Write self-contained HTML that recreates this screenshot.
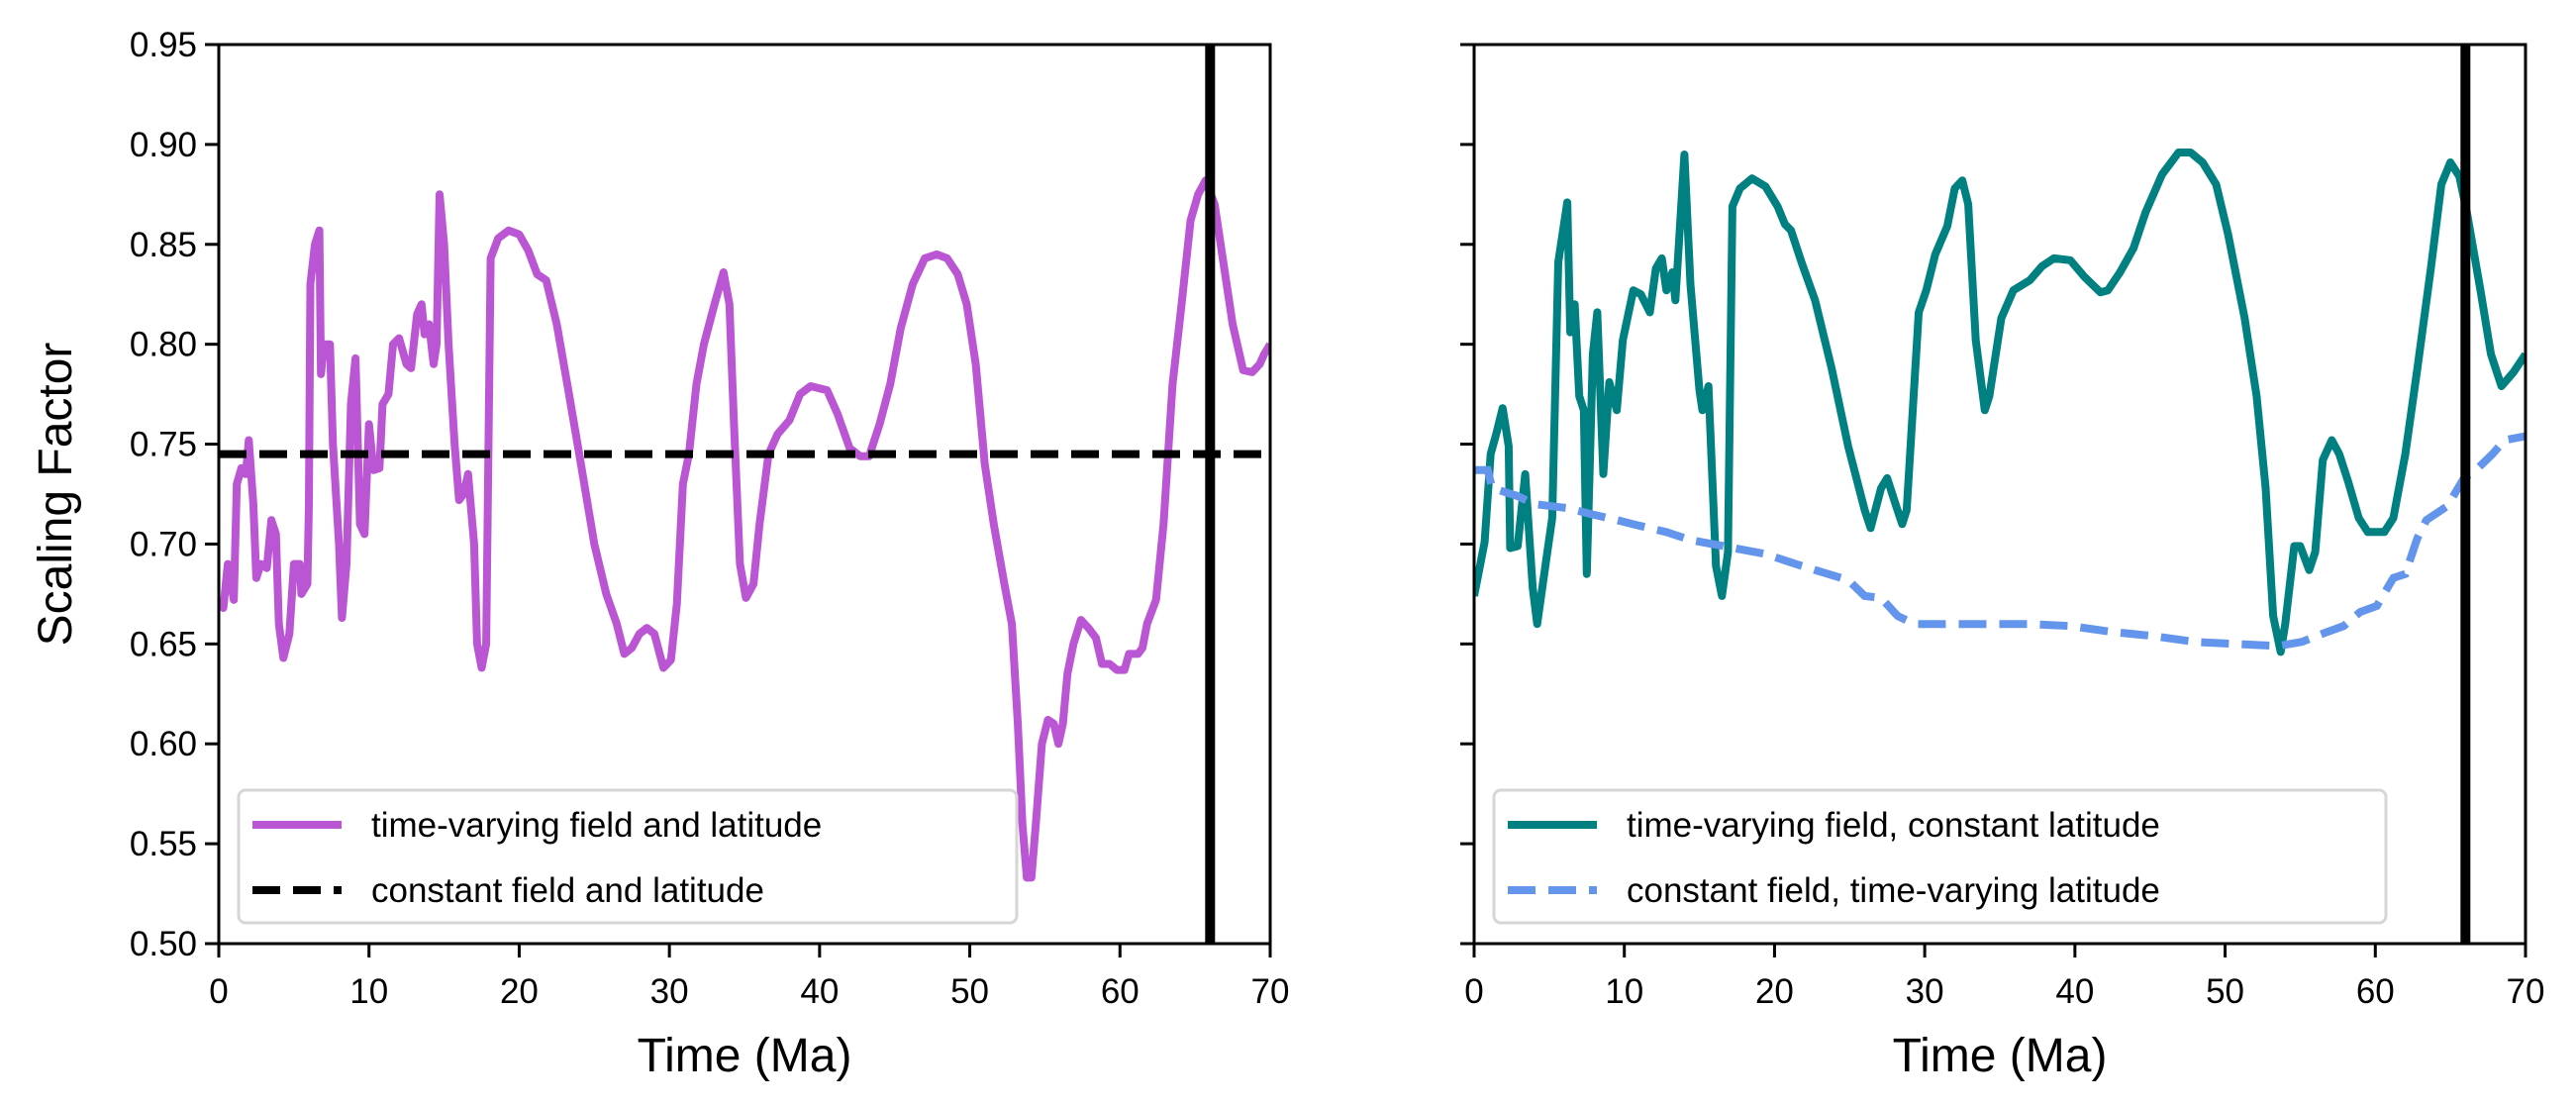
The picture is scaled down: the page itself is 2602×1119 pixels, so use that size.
<!DOCTYPE html>
<html><head><meta charset="utf-8"><style>
html,body{margin:0;padding:0;background:#fff;}
svg{display:block;font-family:"Liberation Sans","DejaVu Sans",sans-serif;}
</style></head><body>
<svg id="chart" width="2602" height="1119" viewBox="0 0 2602 1119" xmlns="http://www.w3.org/2000/svg"></svg>
<script>
const xTicks=[0,10,20,30,40,50,60,70];
const yTicks=[0.50,0.55,0.60,0.65,0.70,0.75,0.80,0.85,0.90,0.95];
const boundaryAge=66;
const constantValue=0.745;
const purpleT=[0,0.3,0.6,1,1.2,1.5,1.8,2,2.3,2.5,2.8,3.2,3.5,3.8,4,4.3,4.7,5,5.4,5.5,5.9,6,6.1,6.4,6.7,6.8,7,7.4,7.6,8,8.2,8.5,8.8,9.1,9.4,9.7,10,10.3,10.7,10.9,11.3,11.6,12,12.5,12.8,13.2,13.5,13.7,14,14.3,14.5,14.7,15,15.3,15.7,16,16.3,16.6,17,17.2,17.5,17.8,18.1,18.6,19.3,20,20.6,21.2,21.8,22.5,23.2,24,25,25.8,26.5,27,27.5,28,28.5,29,29.6,30.1,30.5,30.9,31.3,31.8,32.3,33,33.6,34,34.3,34.7,35.1,35.6,36,36.6,37.2,38,38.7,39.4,40.5,41.2,42,42.7,43.3,44,44.7,45.4,46.2,47,47.8,48.5,49.2,49.8,50.4,51,51.6,52.3,52.8,53.2,53.5,53.8,54.1,54.4,54.8,55.2,55.6,55.9,56.2,56.5,56.9,57.4,57.9,58.4,58.8,59.3,59.8,60.3,60.6,61.2,61.5,61.8,62.4,62.9,63.5,64.1,64.7,65.2,65.7,66.3,66.9,67.5,68.2,68.8,69.3,69.6,70];
const purpleV=[0.67,0.668,0.69,0.672,0.73,0.738,0.735,0.752,0.72,0.683,0.69,0.688,0.712,0.705,0.66,0.643,0.655,0.69,0.69,0.675,0.68,0.72,0.83,0.85,0.857,0.785,0.80,0.80,0.75,0.70,0.663,0.69,0.77,0.793,0.71,0.705,0.76,0.737,0.738,0.77,0.775,0.80,0.803,0.79,0.788,0.815,0.82,0.805,0.81,0.79,0.80,0.875,0.85,0.80,0.75,0.722,0.725,0.735,0.70,0.65,0.638,0.65,0.843,0.853,0.857,0.855,0.847,0.835,0.832,0.81,0.78,0.745,0.70,0.675,0.66,0.645,0.648,0.655,0.658,0.655,0.638,0.642,0.67,0.73,0.745,0.78,0.80,0.82,0.836,0.82,0.76,0.69,0.673,0.68,0.71,0.745,0.755,0.762,0.775,0.779,0.777,0.765,0.748,0.744,0.744,0.76,0.78,0.808,0.83,0.843,0.845,0.843,0.835,0.82,0.79,0.74,0.71,0.68,0.66,0.61,0.56,0.533,0.533,0.56,0.60,0.612,0.61,0.60,0.61,0.635,0.65,0.662,0.658,0.653,0.64,0.64,0.637,0.637,0.645,0.645,0.648,0.66,0.672,0.71,0.78,0.82,0.862,0.875,0.882,0.87,0.84,0.81,0.787,0.786,0.79,0.795,0.80];
const tealT=[0,0.7,1.1,1.5,1.9,2.3,2.4,2.9,3.4,3.9,4.2,4.8,5.2,5.6,6.2,6.4,6.7,7,7.3,7.5,7.9,8.2,8.6,9,9.5,9.9,10.6,11.1,11.7,12.1,12.5,12.8,13.2,13.4,14,14.4,15,15.2,15.6,16.1,16.5,16.9,17.2,17.7,18.5,19.4,20.2,20.7,21.1,21.8,22.7,23.8,24.9,26,26.4,27.1,27.5,28.1,28.5,28.8,29.6,30.1,30.7,31.5,32,32.5,32.9,33.4,34,34.3,35.1,35.9,37,37.8,38.6,39.7,40.6,41.7,42.2,43,43.9,44.7,45.8,46.9,47.7,48.5,49.4,50.2,51.3,52.1,52.7,53.2,53.7,54,54.6,55,55.6,56,56.5,57.1,57.6,58.2,58.9,59.5,60.6,61.2,62,62.8,63.7,64.4,65,65.6,66.1,67,67.7,68.4,69.2,70];
const tealV=[0.674,0.701,0.745,0.756,0.768,0.749,0.698,0.699,0.735,0.678,0.66,0.692,0.713,0.841,0.871,0.806,0.82,0.774,0.767,0.685,0.795,0.816,0.735,0.781,0.767,0.802,0.827,0.825,0.816,0.838,0.843,0.827,0.836,0.822,0.895,0.83,0.777,0.767,0.779,0.689,0.674,0.696,0.869,0.878,0.883,0.879,0.869,0.86,0.857,0.841,0.822,0.788,0.749,0.717,0.708,0.728,0.733,0.719,0.71,0.717,0.816,0.827,0.845,0.859,0.878,0.882,0.87,0.802,0.767,0.774,0.813,0.827,0.832,0.839,0.843,0.842,0.834,0.826,0.827,0.836,0.848,0.866,0.885,0.896,0.896,0.891,0.88,0.855,0.813,0.774,0.728,0.664,0.646,0.66,0.699,0.699,0.687,0.696,0.742,0.752,0.745,0.731,0.713,0.706,0.706,0.713,0.745,0.788,0.838,0.88,0.891,0.884,0.866,0.827,0.795,0.779,0.786,0.795];
const blueT=[0,0.9,1.2,2.9,4,6.2,7.8,9.5,11.1,12.8,14.4,16.6,19.4,21,22.7,24.9,26,27.1,28.2,29.3,31.5,37,39.7,42.5,45.2,48,50.7,53.5,55.1,56.8,57.9,59,60.1,61.2,62,62.8,63.4,64.8,65.9,66.7,67.8,68.6,70];
const blueV=[0.737,0.737,0.728,0.724,0.72,0.718,0.715,0.712,0.709,0.706,0.702,0.699,0.695,0.691,0.687,0.682,0.674,0.673,0.664,0.66,0.66,0.66,0.659,0.656,0.654,0.651,0.65,0.649,0.651,0.656,0.659,0.666,0.669,0.683,0.685,0.703,0.712,0.719,0.733,0.737,0.745,0.752,0.754];

const NS='http://www.w3.org/2000/svg';
const svg=document.getElementById('chart');
function mk(tag,attrs,parent,text){const e=document.createElementNS(NS,tag);for(const k in attrs)e.setAttribute(k,attrs[k]);if(text!==undefined)e.textContent=text;(parent||svg).appendChild(e);return e;}
const T=45,B=953;
function makeAxes(L,R,name){
  const g=mk('g',{});
  
  
  const xs=t=>L+(t-0)/70*(R-L);
  const ys=v=>B-(v-0.5)/0.45*(B-T);
  return {g,xs,ys,L,R};
}
function drawFrame(ax,showY,prefix){
  const {g,xs,ys,L,R}=ax;
  xTicks.forEach(t=>{
    const l=mk('line',{x1:xs(t),x2:xs(t),y1:B,y2:B+14,stroke:'#000','stroke-width':3},g);
    
    
    const tx=mk('text',{x:xs(t),y:B+60,'font-size':35,'text-anchor':'middle'},g,String(t));
    
    
  });
  yTicks.forEach(v=>{
    const l=mk('line',{x1:L-14,x2:L,y1:ys(v),y2:ys(v),stroke:'#000','stroke-width':3},g);
    
    
    if(showY){
      const tx=mk('text',{x:L-22,y:ys(v)+12,'font-size':35,'text-anchor':'end'},g,v.toFixed(2));
      
      
    }
  });
  const xl=mk('text',{x:(L+R)/2,y:1082,'font-size':48,'text-anchor':'middle'},g,'Time (Ma)');
  
  
}
function pathD(ax,ts,vs){return ts.map((t,i)=>(i?'L':'M')+ax.xs(t).toFixed(1)+','+ax.ys(vs[i]).toFixed(1)).join(' ');}
function clip(ax,id){const d=mk('clipPath',{id:id});mk('rect',{x:ax.L,y:T,width:ax.R-ax.L,height:B-T},d);}
function legend(x,y,w,items,prefix){
  const g=mk('g',{});
  
  
  mk('rect',{x:x,y:y,width:w,height:134,rx:7,fill:'#fff','fill-opacity':0.85,stroke:'#d6d6d6','stroke-width':3},g);
  items.forEach((it,i)=>{
    const cy=y+35+i*66;
    const l=mk('line',{x1:x+14,x2:x+104,y1:cy,y2:cy,stroke:it.c,'stroke-width':8,'stroke-dasharray':it.dash||'none'},g);
    
    
    const t=mk('text',{x:x+134,y:cy+12,'font-size':35},g,it.label);
    
    
  });
}
// left panel
const A=makeAxes(221,1283,'left-panel');
clip(A,'cA');
const pp=mk('path',{d:pathD(A,purpleT,purpleV),fill:'none',stroke:'#ba55d3','stroke-width':8,'stroke-linejoin':'round','clip-path':'url(#cA)'},A.g);


const hl=mk('line',{x1:A.L,x2:A.R,y1:A.ys(constantValue),y2:A.ys(constantValue),stroke:'#000','stroke-width':8,'stroke-dasharray':'28 13'},A.g);


const v1=mk('line',{x1:A.xs(boundaryAge),x2:A.xs(boundaryAge),y1:T,y2:B,stroke:'#000','stroke-width':10},A.g);


mk('rect',{x:A.L,y:T,width:A.R-A.L,height:B-T,fill:'none',stroke:'#000','stroke-width':3},A.g);
drawFrame(A,true,'left-');
const yl=mk('text',{x:0,y:0,'font-size':48,'text-anchor':'middle',transform:'translate(72,499) rotate(-90)'},A.g,'Scaling Factor');


legend(241,798,786,[{c:'#ba55d3',label:'time-varying field and latitude'},{c:'#000',dash:'28 13',label:'constant field and latitude'}],'left-');
// right panel
const Bx=makeAxes(1489,2551,'right-panel');
clip(Bx,'cB');
const tp=mk('path',{d:pathD(Bx,tealT,tealV),fill:'none',stroke:'#008080','stroke-width':8,'stroke-linejoin':'round','clip-path':'url(#cB)'},Bx.g);


const bp=mk('path',{d:pathD(Bx,blueT,blueV),fill:'none',stroke:'#6495ed','stroke-width':8,'stroke-dasharray':'28 13','clip-path':'url(#cB)'},Bx.g);


const v2=mk('line',{x1:Bx.xs(boundaryAge),x2:Bx.xs(boundaryAge),y1:T,y2:B,stroke:'#000','stroke-width':10},Bx.g);


mk('rect',{x:Bx.L,y:T,width:Bx.R-Bx.L,height:B-T,fill:'none',stroke:'#000','stroke-width':3},Bx.g);
drawFrame(Bx,false,'right-');
legend(1509,798,901,[{c:'#008080',label:'time-varying field, constant latitude'},{c:'#6495ed',dash:'28 13',label:'constant field, time-varying latitude'}],'right-');
</script>
</body></html>
